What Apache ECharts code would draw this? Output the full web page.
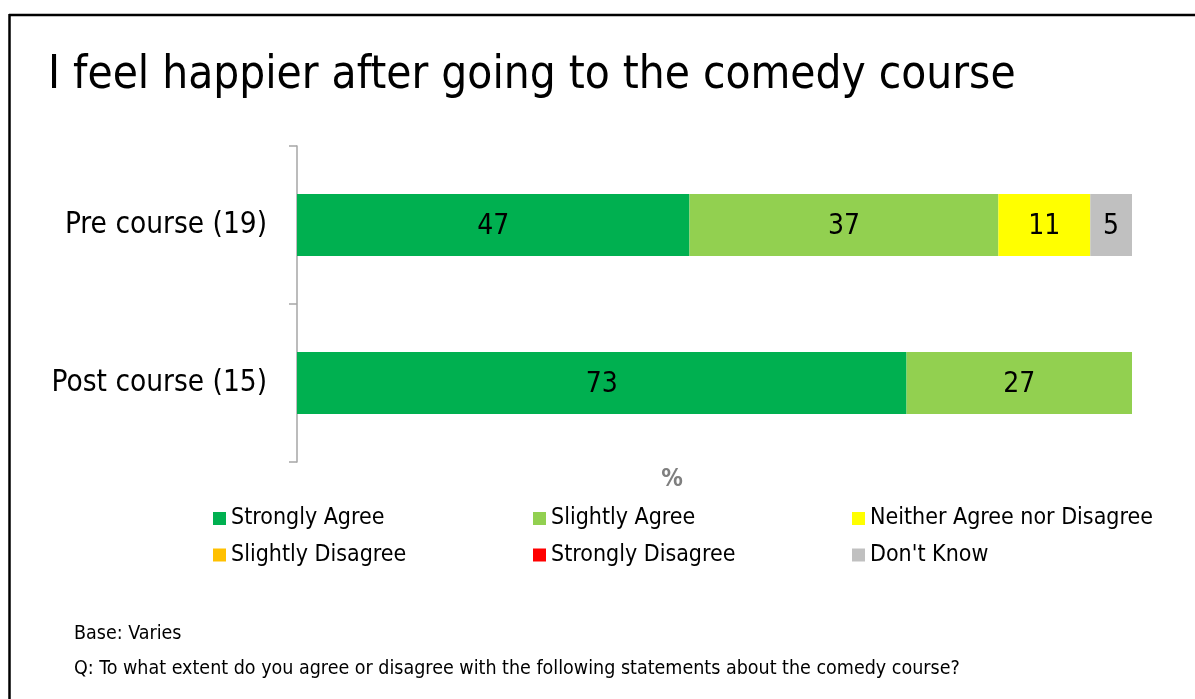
<!DOCTYPE html>
<html>
<head>
<meta charset="utf-8">
<script src="https://cdn.jsdelivr.net/npm/echarts@6/dist/echarts.min.js"></script>
<style>
  html, body { margin: 0; padding: 0; background: #fff; }
  #chart { width: 1195px; height: 699px; }
</style>
</head>
<body>
<div id="chart"></div>
<script>
// Survey groups (top to bottom)
const groups = ['Pre course (19)', 'Post course (15)'];

// Response categories
const responses = ['Strongly Agree', 'Slightly Agree', 'Neither Agree nor Disagree',
                   'Slightly Disagree', 'Strongly Disagree', "Don't Know"];

// Percentages per response, one value per group
const stronglyAgree = [47, 73];
const slightlyAgree = [37, 27];
const neitherAgree = [11, 0];
const slightlyDisagree = [0, 0];
const stronglyDisagree = [0, 0];
const dontKnow = [5, 0];

const colours = ['#00B050', '#92D050', '#FFFF00', '#FFC000', '#FF0000', '#C0C0C0'];
const values = [stronglyAgree, slightlyAgree, neitherAgree, slightlyDisagree, stronglyDisagree, dontKnow];

const FONT = 'DejaVu Sans Condensed';

const series = responses.map((name, i) => ({
  name: name,
  type: 'bar',
  stack: 'total',
  barWidth: 62,
  data: values[i],
  itemStyle: { color: colours[i] },
  label: {
    show: true,
    position: 'inside',
    offset: [0, 2],
    color: '#000',
    fontFamily: FONT,
    fontSize: 28,
    formatter: p => (p.value > 0 ? String(p.value) : '')
  },
  emphasis: { disabled: true }
}));

const legendText = { fontFamily: FONT, fontSize: 23, color: '#000' };
const legendCommon = {
  orient: 'vertical',
  top: 502,
  itemWidth: 13,
  itemHeight: 13,
  itemGap: 13.5,
  icon: 'rect',
  textStyle: legendText,
  selectedMode: false
};

const chart = echarts.init(document.getElementById('chart'));
chart.setOption({
  animation: false,
  title: [
    {
      text: 'I feel happier after going to the comedy course',
      left: 43, top: 48,
      textStyle: { fontFamily: FONT, fontSize: 45.5, fontWeight: 'normal', color: '#000' }
    },
    {
      text: 'Base: Varies',
      left: 69, top: 619,
      textStyle: { fontFamily: FONT, fontSize: 19.5, fontWeight: 'normal', color: '#000' }
    },
    {
      text: 'Q: To what extent do you agree or disagree with the following statements about the comedy course?',
      left: 69, top: 654,
      textStyle: { fontFamily: FONT, fontSize: 19.5, fontWeight: 'normal', color: '#000' }
    }
  ],
  legend: [
    Object.assign({ left: 208, data: [responses[0], responses[3]] }, legendCommon),
    Object.assign({ left: 528, data: [responses[1], responses[4]] }, legendCommon),
    Object.assign({ left: 847, data: [responses[2], responses[5]] }, legendCommon)
  ],
  grid: { left: 297, right: 63, top: 146, bottom: 237 },
  xAxis: {
    type: 'value',
    min: 0, max: 100,
    axisLine: { show: false },
    axisTick: { show: false },
    axisLabel: { show: false },
    splitLine: { show: false }
  },
  yAxis: {
    type: 'category',
    data: groups,
    inverse: true,
    axisLine: { show: true, lineStyle: { color: '#A6A6A6', width: 1.5 } },
    axisTick: { show: true, length: 8, lineStyle: { color: '#A6A6A6', width: 1.5 } },
    axisLabel: { fontFamily: FONT, fontSize: 29.5, color: '#000', margin: 30, padding: [4, 0, 0, 0] }
  },
  series: series,
  graphic: [
    // value axis unit
    {
      type: 'text', x: 672, y: 480,
      style: {
        text: '%', fill: '#7F7F7F', font: 'bold 24px "DejaVu Sans Condensed"',
        textAlign: 'center', textVerticalAlign: 'middle'
      }
    },
    // slide frame (top and left edges)
    { type: 'line', shape: { x1: 9, y1: 15, x2: 1195, y2: 15 }, style: { stroke: '#000', lineWidth: 2.5 } },
    { type: 'line', shape: { x1: 9.5, y1: 14, x2: 9.5, y2: 699 }, style: { stroke: '#000', lineWidth: 2.5 } }
  ]
});
</script>
</body>
</html>
